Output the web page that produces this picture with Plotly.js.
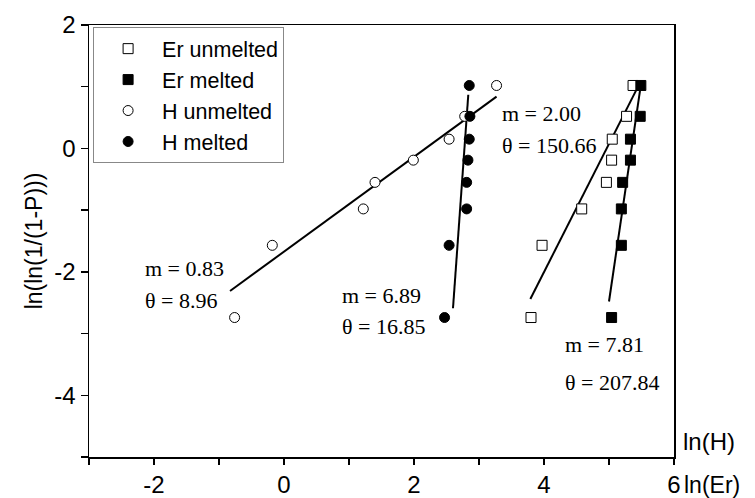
<!DOCTYPE html>
<html>
<head>
<meta charset="utf-8">
<script src="https://cdn.plot.ly/plotly-3.0.1.min.js"></script>
<style>html,body{margin:0;padding:0;background:#fff;}#chart{width:755px;height:498px;}</style>
</head>
<body>
<div id="chart"></div>
<script>
// Weibull probability values (y) shared by all series
const yWeibull = [-2.74, -1.57, -0.98, -0.55, -0.19, 0.15, 0.52, 1.02];

const erUnmeltedX = [3.80, 3.97, 4.58, 4.96, 5.04, 5.05, 5.27, 5.37];
const erMeltedX   = [5.04, 5.19, 5.19, 5.21, 5.33, 5.33, 5.48, 5.49];
const hUnmeltedX  = [-0.76, -0.18, 1.22, 1.40, 1.99, 2.54, 2.78, 3.27];
const hMeltedX    = [2.47, 2.54, 2.81, 2.81, 2.83, 2.85, 2.86, 2.85];

// fitted lines (end points)
const hUnFitX  = [-0.83, 3.27], hUnFitY  = [-2.31, 0.84];
const hMeFitX  = [2.60, 2.835], hMeFitY  = [-2.59, 0.87];
const erUnFitX = [3.79, 5.46],  erUnFitY = [-2.44, 1.03];
const erMeFitX = [5.00, 5.49],  erMeFitY = [-2.48, 1.03];

// tick labels (plain hyphen minus as in the original)
const xTickVals = [-2, 0, 2, 4, 6];
const xTickText = ['-2', '0', '2', '4', '6'];
const yTickVals = [2, 0, -2, -4];
const yTickText = ['2', '0', '-2', '-4'];

const seriesNames = ['Er unmelted', 'Er melted', 'H unmelted', 'H melted'];
const fitLabels = [
  {m: 'm = 0.83', t: '\u03b8 = 8.96'},
  {m: 'm = 6.89', t: '\u03b8 = 16.85'},
  {m: 'm = 2.00', t: '\u03b8 = 150.66'},
  {m: 'm = 7.81', t: '\u03b8 = 207.84'}
];

const lineStyle = {color: '#000', width: 2};
function fit(x, y) {
  return {x: x, y: y, mode: 'lines', line: lineStyle, showlegend: false, hoverinfo: 'skip'};
}
function pts(x, name, symbol, fill) {
  return {x: x, y: yWeibull, name: name, mode: 'markers',
    marker: {symbol: symbol, size: 10, color: fill, line: {color: '#000', width: 1}}};
}

const data = [
  fit(hUnFitX, hUnFitY), fit(hMeFitX, hMeFitY), fit(erUnFitX, erUnFitY), fit(erMeFitX, erMeFitY),
  pts(erUnmeltedX, seriesNames[0], 'square', '#fff'),
  pts(erMeltedX, seriesNames[1], 'square', '#000'),
  pts(hUnmeltedX, seriesNames[2], 'circle', '#fff'),
  pts(hMeltedX, seriesNames[3], 'circle', '#000')
];

const serif = {family: 'Liberation Serif, Times New Roman, serif', size: 22, color: '#000'};
const sans = {family: 'Liberation Sans, Arial, sans-serif', size: 24, color: '#000'};
const sansSmall = {family: 'Liberation Sans, Arial, sans-serif', size: 23, color: '#000'};

function ann(x, y, text, font, ref) {
  return {x: x, y: y, xref: ref || 'x', yref: ref || 'y', text: text, showarrow: false,
    xanchor: 'left', yanchor: 'middle', font: font};
}

const layout = {
  width: 755, height: 498,
  margin: {l: 89, r: 81, t: 25, b: 41},
  paper_bgcolor: '#fff', plot_bgcolor: '#fff',
  showlegend: true,
  legend: {x: 0.007, y: 0.995, xanchor: 'left', yanchor: 'top',
    bordercolor: '#888', borderwidth: 1, bgcolor: '#fff',
    font: {family: 'Liberation Sans, Arial, sans-serif', size: 21.5, color: '#000'},
    itemwidth: 58, tracegroupgap: 0},
  xaxis: {range: [-3, 6], tickmode: 'array', tickvals: xTickVals, ticktext: xTickText,
    ticks: 'outside', ticklen: 6, tickwidth: 1.5,
    tickcolor: '#000', showline: true, linecolor: '#000', linewidth: 1.5, mirror: true,
    showgrid: false, zeroline: false, tickfont: sans,
    minor: {dtick: 1, tick0: -3, ticks: 'outside', ticklen: 6, tickwidth: 1.5, tickcolor: '#000', showgrid: false}},
  yaxis: {range: [-5, 2], tickmode: 'array', tickvals: yTickVals, ticktext: yTickText,
    ticks: 'outside', ticklen: 7, tickwidth: 1.5,
    tickcolor: '#000', showline: true, linecolor: '#000', linewidth: 1.5, mirror: true,
    showgrid: false, zeroline: false, tickfont: sans,
    minor: {dtick: 1, tick0: -5, ticks: 'outside', ticklen: 7, tickwidth: 1.5, tickcolor: '#000', showgrid: false},
    title: {text: 'ln(ln(1/(1-P)))', font: {family: 'Liberation Sans, Arial, sans-serif', size: 23, color: '#000'}, standoff: 5}},
  annotations: [
    ann(-2.17, -1.94, fitLabels[0].m, serif), ann(-2.17, -2.46, fitLabels[0].t, serif),
    ann(0.86, -2.38, fitLabels[1].m, serif), ann(0.86, -2.89, fitLabels[1].t, serif),
    ann(3.32, 0.57, fitLabels[2].m, serif), ann(3.32, 0.055, fitLabels[2].t, serif),
    ann(4.29, -3.17, fitLabels[3].m, serif), ann(4.29, -3.80, fitLabels[3].t, serif),
    ann(1.012, 0.035, 'ln(H)', sans, 'paper'),
    ann(1.014, -0.064, 'ln(Er)', sansSmall, 'paper')
  ]
};

Plotly.newPlot('chart', data, layout, {displayModeBar: false, staticPlot: true});
</script>
</body>
</html>
